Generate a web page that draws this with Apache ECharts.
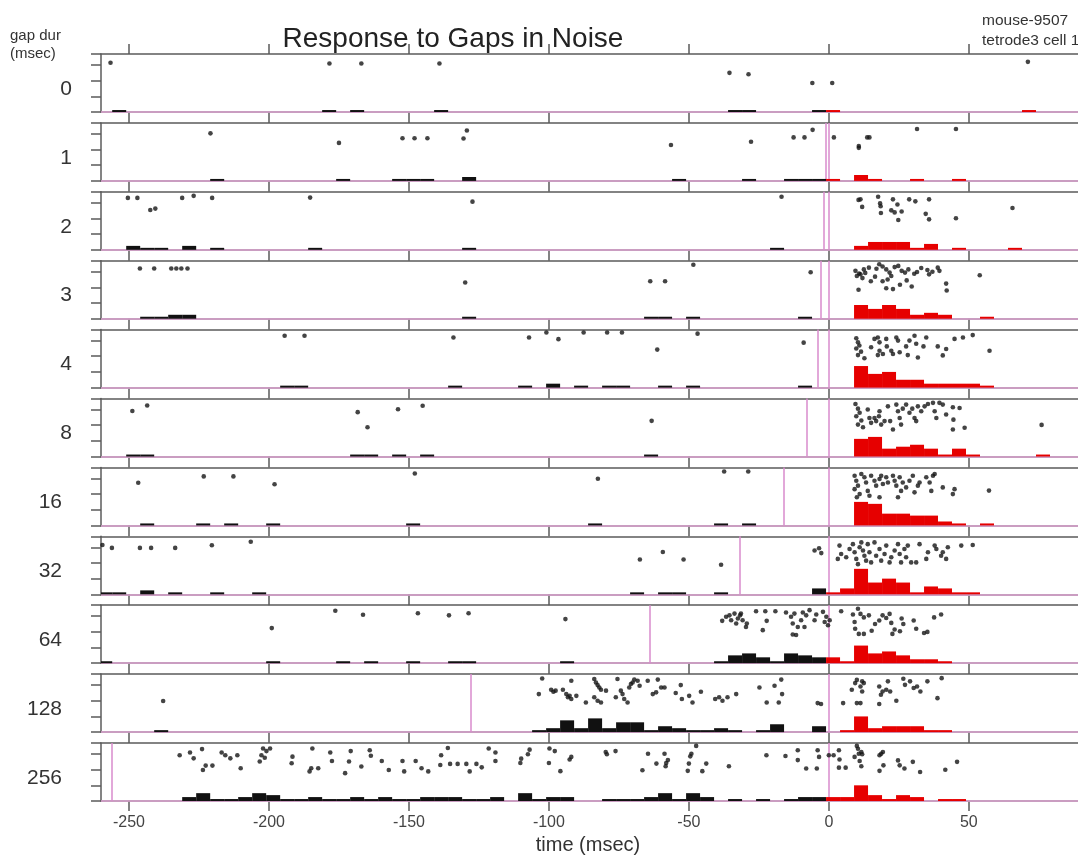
<!DOCTYPE html>
<html>
<head>
<meta charset="utf-8">
<title>Response to Gaps in Noise</title>
<script src="https://cdn.jsdelivr.net/npm/echarts@6/dist/echarts.min.js"></script>
<style>
  html, body { margin: 0; padding: 0; background: #ffffff; }
  #chart { width: 1078px; height: 856px; }
</style>
</head>
<body>
<div id="chart"></div>
<script>
// ---- data -------------------------------------------------------------
// gap durations (msec), one panel per gap
const gapDurations = [0, 1, 2, 3, 4, 8, 16, 32, 64, 128, 256];
// time axis tick labels (msec)
const timeTicks = [-250, -200, -150, -100, -50, 0, 50];
const BIN_MS = 5;

// spikes: [time (msec), trial]
const spikesGap0 = [[-256.6,3],[-178.4,3.3],[-167,3.3],[-139.1,3.3],[-35.5,6.5],[-28.7,7],[-5.9,10],[1.2,10],[71.1,2.7]];
const spikesGap1 = [[-220.9,3.6],[-175,6.9],[-152.3,5.3],[-148,5.3],[-143.4,5.3],[-130.5,5.4],[-129.3,2.6],[-56.4,7.6],[-27.8,6.5],[-12.6,5],[-8.7,5],[-5.8,2.4],[1.8,5],[10.7,8],[10.7,8.6],[13.7,5],[14.5,5],[31.5,2.1],[45.4,2.1]];
const spikesGap2 = [[-250.4,2.1],[-247,2.1],[-242.4,6.3],[-240.6,5.8],[-231,2.1],[-226.9,1.4],[-220.3,2.1],[-185.3,2],[-127.3,3.4],[-16.9,1.7],[10.6,2.8],[11.3,2.6],[11.9,5.2],[17.6,1.7],[18.3,4],[18.5,5],[18.6,7.3],[22.9,2.6],[24.5,4.4],[22.3,6.4],[23.5,7.1],[26,6.8],[24.8,9.7],[28.7,2.6],[30.9,3.3],[35.8,2.6],[34.6,7.6],[35.8,9.5],[45.4,9.1],[65.6,5.6]];
const spikesGap3 = [[-246.1,2.7],[-241,2.7],[-234.9,2.7],[-233.1,2.7],[-231.3,2.7],[-229.1,2.7],[-129.9,7.5],[-63.8,7.1],[-58.5,7.1],[-48.4,1.4],[-6.5,4],[10,5.3],[11.3,4.7],[12.5,3],[14.3,2.4],[10.6,10],[15,7.1],[18,1.2],[19.2,2],[20.5,3],[21.7,4.1],[22.3,5.3],[19.2,7.1],[20.5,9.5],[22.9,9.8],[24.8,1.8],[25.4,8.3],[27.2,4.1],[28.4,3],[29.6,8.9],[31.5,3.9],[35.2,3.2],[35.8,4.7],[38.9,2.4],[39.5,3.5],[41.9,7.9],[42.1,10.3],[53.9,5],[9.5,3.5],[12,6],[13,4.2],[16.5,5.5],[17,2.8],[21,6.5],[23.5,2.2],[26,3.5],[27.8,6.8],[30.5,4.5],[33,2.5],[37,3.8],[10.8,4.4]];
const spikesGap4 = [[-194.4,2.1],[-187.3,2.1],[-134.1,2.7],[-107.1,2.7],[-100.9,1],[-96.6,3.3],[-87.6,1],[-79.2,1],[-73.9,1],[-61.3,6.9],[-46.9,1.4],[-9,4.5],[9.8,3],[10.4,4.4],[10.9,5.5],[9.8,6.5],[11.5,7.6],[10.4,8.8],[12.7,9.9],[15.1,6.1],[16.3,3.2],[17.5,2.7],[18.1,4.4],[18.1,7.3],[17.5,8.8],[19.3,8.4],[20.5,3.2],[20.7,5.8],[22.3,7.3],[22.9,8.4],[24.1,2.7],[24.7,3.8],[25.3,7.8],[27.6,5.8],[28.2,8.8],[28.8,3.8],[30.6,2.1],[31.2,4.9],[31.8,9.6],[33.8,5.8],[34.8,2.7],[38.9,5.8],[40.7,8.9],[41.9,6.7],[44.9,3.2],[47.9,2.7],[51.4,1.9],[57.4,7.3]];
const spikesGap8 = [[-248.8,4.3],[-243.5,2.4],[-168.3,4.7],[-164.8,9.9],[-153.9,3.7],[-145.1,2.5],[-63.3,7.7],[9.5,1.9],[10.4,3.5],[11,4.9],[9.8,6.1],[11.6,7.6],[10.4,9],[12.2,9.9],[13.9,3.8],[14.5,6.7],[15.1,8.4],[16.3,6.7],[16.9,7.8],[17.9,6.1],[18.1,4.4],[18.7,9],[19.9,7.8],[21.1,2.7],[21.9,7.8],[22.9,10.7],[24.1,2.1],[24.7,4.4],[25.3,6.7],[25.8,9],[26.4,3.5],[27.6,2.1],[28.8,4.9],[29.8,3.5],[30.6,6.7],[31.2,7.8],[31.8,2.7],[33,4.4],[34.2,2.7],[35.4,1.9],[37.2,1.5],[37.8,4.4],[38.4,6.7],[39.5,1.5],[40.7,2.1],[41.9,5.5],[44.3,3],[44.5,7.3],[44.3,10.7],[46.7,3.3],[48.5,10.1],[76,9.1]];
const spikesGap16 = [[-246.7,5.3],[-223.3,3.1],[-212.7,3.1],[-198,5.8],[-147.9,2.1],[-82.5,3.9],[-37.4,1.4],[-28.8,1.4],[9.2,2.9],[9.8,4.6],[10.4,6.3],[9.2,7.5],[11,9.2],[10,10.3],[11.6,2.3],[12.7,3.4],[13.3,5.2],[13.9,8.1],[14.5,9.8],[15.1,2.9],[16.3,4.6],[16.9,6.3],[18.1,4],[18.7,2.9],[19.3,5.7],[20.5,3.4],[21.1,5.2],[22.9,2.9],[23.5,4.6],[24.1,6.3],[25.3,3.4],[25.8,8.1],[26.4,5.2],[27.6,6.9],[28.8,4.6],[30,2.9],[30.6,8.6],[31.8,6.3],[32.4,5.2],[34.8,3.4],[36,5.2],[37.2,2.9],[37.8,2.3],[36.6,8.1],[40.7,6.9],[44.3,9.2],[44.9,7.5],[18.1,10.3],[24.7,10.3],[57.2,8]];
const spikesGap32 = [[-259.5,3],[-256.1,4],[-246.1,4],[-242.1,4],[-233.5,4],[-220.4,3.1],[-206.5,1.9],[-67.5,8],[-59.3,5.4],[-51.9,8],[-38.5,9.8],[-5.1,4.9],[-3.5,4.1],[-2.7,5.8],[3.8,3.2],[3.2,7.8],[4.4,6.1],[6.2,7.2],[7.4,4.4],[8.6,2.7],[9.2,5.5],[9.8,7.8],[10.4,9.6],[11,3.8],[11.6,2.1],[12.2,4.9],[12.7,6.7],[13.3,8.4],[13.9,2.7],[14.5,5.5],[15.1,9],[16.3,2.1],[16.9,6.7],[18.1,4.4],[18.7,8.4],[19.9,6.1],[20.5,3.2],[21.7,9],[22.3,7.2],[23.5,4.9],[24.7,2.7],[25.3,6.1],[25.8,9],[27,4.4],[27.6,7.2],[28.2,3.2],[29.4,9],[31.2,9],[32.4,2.7],[34.8,7.8],[35.4,5.5],[37.8,3.2],[38.4,4.4],[40.1,6.7],[40.7,5.5],[42.5,3.8],[41.9,7.8],[47.3,3.2],[51.4,3]];
const spikesGap64 = [[-199,7.9],[-176.3,1.9],[-166.4,3.3],[-146.8,2.8],[-135.7,3.5],[-128.7,2.8],[-94.1,4.8],[-38.1,5.4],[-36.7,4],[-35.5,3.5],[-34.9,5.2],[-33.7,2.9],[-33.1,6.3],[-32.5,4.6],[-31.7,3.5],[-31.4,2.9],[-30.8,5.2],[-29.6,7.5],[-29.3,6.3],[-26,2.1],[-23.6,8.6],[-22.7,2.1],[-22.2,5.4],[-19.1,2.1],[-15.3,2.5],[-13.5,4],[-12.9,6.3],[-12.3,2.9],[-12.9,10.1],[-11.7,10.3],[-11.1,7.5],[-9.9,5.2],[-9.3,2.5],[-8.7,7.5],[-8.1,3.5],[-6.9,1.7],[-5.1,5.2],[-4.5,3.2],[-2.1,2.3],[-1.5,5.8],[-0.9,4],[-0.3,6.9],[0.3,5.2],[4.4,2.1],[8.6,3.2],[9.2,5.8],[10.4,1.2],[11.3,3],[12.5,4.2],[14.3,3.5],[9.4,8.1],[10.7,9.9],[12.5,9.9],[15.3,8.8],[16.5,6.5],[18,5.3],[19.2,3.5],[20.5,4.4],[21.7,3],[22.3,6.1],[22.7,9.9],[23.5,8.4],[25.4,9],[26,4.6],[26.6,6.5],[30.3,5.3],[31.2,8.1],[34,9.6],[35.2,9.2],[37.6,4.2],[40.1,3.2]];
const spikesGap128 = [[-237.8,9.3],[-102.4,1.5],[-103.6,6.9],[-99.2,5.4],[-98.4,6.1],[-97.6,5.7],[-95,5.4],[-93.8,6.9],[-93.2,8],[-92.6,7.5],[-92,2.3],[-92,8.6],[-90.2,7.5],[-86.8,9.8],[-83.8,1.7],[-83.2,2.9],[-82.6,3.8],[-82,4.6],[-81.4,5.4],[-83.8,8],[-82.6,9.2],[-81.4,9.8],[-79.6,5.7],[-75.5,1.7],[-76.1,8],[-74.3,5.7],[-73.7,6.9],[-73.1,8.6],[-71.9,9.8],[-71.3,4.6],[-70.7,3.4],[-70.1,2.9],[-69.5,1.9],[-68.3,2.3],[-67.6,4],[-64.7,2.3],[-62.9,6.9],[-61.7,6.3],[-61.1,1.9],[-59.9,4.6],[-58.7,4.6],[-54.7,6.5],[-52.9,3.8],[-52.5,8.6],[-49.9,7.5],[-48.7,9.8],[-45.7,6.1],[-40.6,8.6],[-39.2,8],[-38,9.2],[-36.2,8],[-33.1,6.9],[-24.8,4.6],[-22.2,9.8],[-19.4,4],[-17,1.9],[-16.7,6.9],[-17.9,9.8],[-4,10],[-2.8,10.3],[5.1,10],[8.2,5.4],[9.4,3.1],[10,2],[11.3,4.3],[11.9,2.5],[11.9,6],[12.5,3.1],[10,10],[11.3,10],[18,4.3],[18,10.3],[18.6,7.1],[19.2,6],[20.5,5.4],[21.1,2.5],[21.9,6],[24.1,9.2],[26.6,1.6],[27.2,3.7],[29,2.5],[30.3,4.8],[31.5,4.3],[32.7,6],[35.2,2.5],[38.8,8.3],[40.3,1.4]];
const spikesGap256 = [[-231.9,4.2],[-228.2,3.3],[-226.9,5.3],[-223.9,2.1],[-223.6,9.3],[-222.6,7.8],[-220.2,7.8],[-216.9,3.3],[-215.6,4.2],[-213.8,5.3],[-211.3,4.2],[-210.1,8.7],[-203.3,6.4],[-202.7,4.2],[-202.1,1.9],[-200.9,2.8],[-199.6,1.9],[-201.5,5.1],[-191.6,4.7],[-191.9,7],[-185.5,9.8],[-184.9,8.7],[-182.4,8.7],[-184.5,1.9],[-178.1,3.3],[-177.5,6.2],[-172.8,10.4],[-171.4,6.4],[-170.8,2.8],[-167,8.1],[-164,2.5],[-163.6,4.4],[-159.7,6.2],[-157.2,9.3],[-152.3,6.2],[-151.7,9.8],[-147.6,6.2],[-145.5,8.7],[-143.1,9.8],[-138.8,7.6],[-138.5,4.2],[-136.1,1.7],[-135.3,7.2],[-132.6,7.2],[-129.5,7.2],[-128.3,9.8],[-125.9,7.2],[-124,8.4],[-121.5,1.9],[-119.1,3.3],[-119.1,6.2],[-110.2,6.9],[-109.9,5.4],[-107.5,3.9],[-106.9,2.3],[-100,6.9],[-99.8,1.9],[-97.9,2.8],[-95.9,9.7],[-92.6,5.7],[-92,4.8],[-79.7,3.1],[-79.3,3.9],[-76.2,2.8],[-66.6,9.4],[-64.6,3.7],[-61.6,7.1],[-58.7,3.7],[-58.1,6.9],[-57.5,5.9],[-58.3,8],[-50.4,9.6],[-50,7.1],[-49.5,4.6],[-49.1,3.7],[-47.4,1],[-45.2,9.7],[-43.8,7.1],[-35.7,8],[-22.3,4.2],[-15.5,4.5],[-11.1,2.5],[-11.1,5.9],[-8.1,8.8],[-4.3,8.8],[-4,2.5],[-3.5,4.8],[0,4.2],[1.7,4.2],[3.6,2.5],[3.8,5.7],[3.6,8.5],[6,8.5],[9.2,4.8],[10,1],[10.4,2],[10.7,3.7],[11.6,3.1],[11,6.2],[11.9,3.9],[11.6,8],[18.1,4.2],[18.7,3.7],[19.3,3.1],[18.1,9.6],[19.5,7.7],[24.7,6],[25.3,7.7],[27,8.8],[30,6.5],[32.6,10],[41.6,9.2],[45.8,6.5]];

// peri-stimulus histograms: [bin start (msec), spike count] for 5 ms bins
const histGap0 = [[-256,1],[-181,1],[-171,1],[-141,1],[-36,1],[-31,1],[-6,1],[-1,1],[69,1]];
const histGap1 = [[-221,1],[-176,1],[-156,1],[-151,1],[-146,1],[-131,2],[-56,1],[-31,1],[-16,1],[-11,1],[-6,1],[-1,1],[9,3],[14,1],[29,1],[44,1]];
const histGap2 = [[-251,2],[-246,1],[-241,1],[-231,2],[-221,1],[-186,1],[-131,1],[-21,1],[9,2],[14,4],[19,4],[24,4],[29,1],[34,3],[44,1],[64,1]];
const histGap3 = [[-246,1],[-241,1],[-236,2],[-231,2],[-131,1],[-66,1],[-61,1],[-51,1],[-11,1],[9,7],[14,5],[19,7],[24,5],[29,2],[34,3],[39,2],[54,1]];
const histGap4 = [[-196,1],[-191,1],[-136,1],[-111,1],[-101,2],[-91,1],[-81,1],[-76,1],[-61,1],[-51,1],[-11,1],[9,11],[14,7],[19,8],[24,4],[29,4],[34,2],[39,2],[44,2],[49,2],[54,1]];
const histGap8 = [[-251,1],[-246,1],[-171,1],[-166,1],[-156,1],[-146,1],[-66,1],[9,9],[14,10],[19,4],[24,5],[29,6],[34,4],[39,1],[44,4],[49,1],[74,1]];
const histGap16 = [[-246,1],[-226,1],[-216,1],[-201,1],[-151,1],[-86,1],[-41,1],[-31,1],[9,12],[14,11],[19,6],[24,6],[29,5],[34,5],[39,2],[44,1],[54,1]];
const histGap32 = [[-261,1],[-256,1],[-246,2],[-236,1],[-221,1],[-206,1],[-71,1],[-61,1],[-56,1],[-41,1],[-6,3],[-1,1],[4,3],[9,13],[14,6],[19,8],[24,6],[29,1],[34,4],[39,3],[44,1],[49,1]];
const histGap64 = [[-261,1],[-201,1],[-176,1],[-166,1],[-151,1],[-136,1],[-131,1],[-96,1],[-41,1],[-36,4],[-31,5],[-26,3],[-21,1],[-16,5],[-11,4],[-6,3],[-1,3],[4,1],[9,9],[14,5],[19,6],[24,4],[29,2],[34,2],[39,1]];
const histGap128 = [[-241,1],[-106,1],[-101,2],[-96,6],[-91,2],[-86,7],[-81,2],[-76,5],[-71,5],[-66,1],[-61,3],[-56,2],[-51,1],[-46,1],[-41,2],[-36,1],[-26,1],[-21,4],[-6,3],[4,1],[9,8],[14,2],[19,3],[24,3],[29,3],[34,1],[39,1]];
const histGap256 = [[-231,2],[-226,4],[-221,1],[-216,1],[-211,2],[-206,4],[-201,3],[-196,1],[-191,1],[-186,2],[-181,1],[-176,1],[-171,2],[-166,1],[-161,2],[-156,1],[-151,1],[-146,2],[-141,2],[-136,2],[-131,1],[-126,1],[-121,2],[-111,4],[-106,1],[-101,2],[-96,2],[-81,1],[-76,1],[-71,1],[-66,2],[-61,4],[-56,1],[-51,4],[-46,2],[-36,1],[-26,1],[-16,1],[-11,2],[-6,2],[-1,2],[4,2],[9,8],[14,3],[19,1],[24,3],[29,2],[39,1],[44,1]];

const spikeSets = [spikesGap0, spikesGap1, spikesGap2, spikesGap3, spikesGap4, spikesGap8, spikesGap16, spikesGap32, spikesGap64, spikesGap128, spikesGap256];
const histSets = [histGap0, histGap1, histGap2, histGap3, histGap4, histGap8, histGap16, histGap32, histGap64, histGap128, histGap256];

// ---- layout & style ----------------------------------------------------
const FONT = '"Liberation Sans", Arial, Helvetica, sans-serif';
const AXIS_COLOR = '#5b5b5b';
const GAP_COLOR = '#d98bcd';
const BASE_COLOR = '#e2a6d6';
const PRE_COLOR = '#111111';
const POST_COLOR = '#e60000';
// the time window runs past the right edge of the page; the plot is cut there
const PLOT_LEFT = 101, FIRST_TOP = 54, PITCH = 68.9, PANEL_H = 58;
const T_MIN = -260, T_MAX = 89;

const chart = echarts.init(document.getElementById('chart'), null, { renderer: 'canvas' });

function renderBin(params, api) {
  const start = api.value(0);
  const count = api.value(1);
  const p0 = api.coord([start, count]);
  const p1 = api.coord([start + BIN_MS, 0]);
  const cs = params.coordSys;
  const shape = echarts.graphic.clipRectByRect(
    { x: p0[0], y: p0[1], width: p1[0] - p0[0], height: p1[1] - p0[1] },
    { x: cs.x, y: cs.y, width: cs.width, height: cs.height }
  );
  if (!shape) return;
  return {
    type: 'rect',
    shape: shape,
    style: { fill: start + BIN_MS / 2 > 0 ? POST_COLOR : PRE_COLOR }
  };
}

const grids = [], xAxes = [], yAxes = [], series = [], labels = [];
const last = gapDurations.length - 1;

gapDurations.forEach(function (gap, i) {
  const top = FIRST_TOP + i * PITCH;
  grids.push({ left: PLOT_LEFT, right: 0, top: top, height: PANEL_H });

  const tickStyle = { color: AXIS_COLOR, width: 1.5 };
  const lineStyle = { color: AXIS_COLOR, width: 1.5 };
  xAxes.push({
    gridIndex: i, type: 'value', min: T_MIN, max: T_MAX, position: 'bottom',
    axisLine: { show: true, onZero: false, lineStyle: lineStyle },
    axisTick: { show: true, inside: false, length: 10, customValues: timeTicks, lineStyle: tickStyle },
    axisLabel: {
      show: i === last, customValues: timeTicks, margin: 14,
      color: '#444', fontFamily: FONT, fontSize: 16
    },
    splitLine: { show: false }
  });
  xAxes.push({
    gridIndex: i, type: 'value', min: T_MIN, max: T_MAX, position: 'top',
    axisLine: { show: true, onZero: false, lineStyle: lineStyle },
    axisTick: { show: true, inside: false, length: 10, customValues: timeTicks, lineStyle: tickStyle },
    axisLabel: { show: false },
    splitLine: { show: false }
  });
  yAxes.push({
    gridIndex: i, type: 'value', min: 0, max: 29.6, interval: 8, position: 'left',
    axisLine: { show: true, onZero: false, lineStyle: lineStyle },
    axisTick: { show: true, inside: false, length: 10, lineStyle: tickStyle },
    axisLabel: { show: false },
    splitLine: { show: false }
  });
  yAxes.push({
    gridIndex: i, type: 'value', min: 0, max: 20, inverse: true, show: false,
    axisLine: { onZero: false }
  });

  const marks = [{ yAxis: 0, lineStyle: { color: BASE_COLOR, width: 1.6, type: 'solid' } }];
  if (gap > 0) {
    marks.push({ xAxis: -gap, lineStyle: { color: GAP_COLOR, width: 1.5, type: 'solid' } });
    marks.push({ xAxis: 0, lineStyle: { color: GAP_COLOR, width: 1.5, type: 'solid' } });
  }

  series.push({
    type: 'custom',
    name: 'psth ' + gap,
    xAxisIndex: 2 * i, yAxisIndex: 2 * i,
    renderItem: renderBin,
    encode: { x: 0, y: 1 },
    data: histSets[i],
    silent: true,
    z: 2,
    markLine: {
      silent: true, symbol: 'none', animation: false, z: 1,
      label: { show: false },
      emphasis: { disabled: true },
      data: marks
    }
  });
  series.push({
    type: 'scatter',
    name: 'spikes ' + gap,
    xAxisIndex: 2 * i, yAxisIndex: 2 * i + 1,
    data: spikeSets[i],
    symbol: 'circle', symbolSize: 4.6,
    itemStyle: { color: '#151515' },
    silent: true,
    z: 3
  });

  const txt = String(gap);
  labels.push({
    type: 'text',
    style: {
      text: txt,
      x: txt.length === 1 ? 72 : 62,
      y: top + PANEL_H / 2 + 6,
      textAlign: 'right', textVerticalAlign: 'middle',
      font: '21px ' + FONT, fill: '#333'
    }
  });
});

const option = {
  backgroundColor: '#ffffff',
  animation: false,
  grid: grids,
  xAxis: xAxes,
  yAxis: yAxes,
  series: series,
  graphic: labels.concat([
    { type: 'text', style: { text: 'Response to Gaps in Noise', x: 453, y: 39, textAlign: 'center', textVerticalAlign: 'middle', font: '28px ' + FONT, fill: '#222' } },
    { type: 'text', style: { text: 'gap dur', x: 10, y: 36, textAlign: 'left', textVerticalAlign: 'middle', font: '15px ' + FONT, fill: '#333' } },
    { type: 'text', style: { text: '(msec)', x: 10, y: 54, textAlign: 'left', textVerticalAlign: 'middle', font: '15px ' + FONT, fill: '#333' } },
    { type: 'text', style: { text: 'mouse-9507', x: 982, y: 21, textAlign: 'left', textVerticalAlign: 'middle', font: '15.5px ' + FONT, fill: '#333' } },
    { type: 'text', style: { text: 'tetrode3 cell 1', x: 982, y: 41, textAlign: 'left', textVerticalAlign: 'middle', font: '15.5px ' + FONT, fill: '#333' } },
    { type: 'text', style: { text: 'time (msec)', x: 588, y: 845, textAlign: 'center', textVerticalAlign: 'middle', font: '20px ' + FONT, fill: '#333' } }
  ])
};

chart.setOption(option);
</script>
</body>
</html>
